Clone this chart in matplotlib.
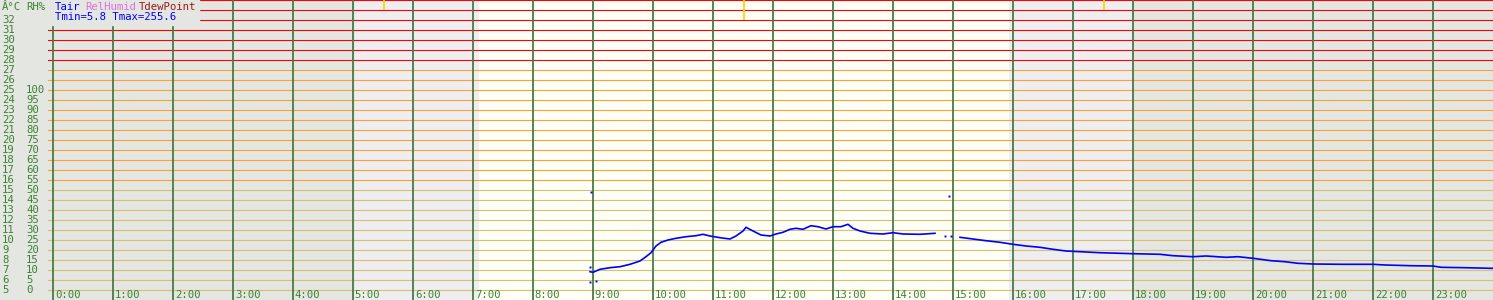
import numpy as np
import matplotlib
matplotlib.use("Agg")
import matplotlib.pyplot as plt
from matplotlib.patches import Rectangle

# ---------------- data ----------------
hour_labels = [f"{h}:00" for h in range(24)]
temp_ticks = list(range(5, 33))            # °C labels on the left
rh_ticks = list(range(0, 105, 5))          # RH% labels (0..100) -> T 5..25

# Tair series (hours, °C); NaN marks a gap in the record
tair_hours = [8.95, 9.0, 9.05, 9.117, 9.283, 9.45, 9.617, 9.783, 9.883, 9.967,
              10.05, 10.133, 10.25, 10.383, 10.55, 10.717, 10.833, 10.95, 11.117, 11.283,
              11.383, 11.5, 11.55, 11.667, 11.8, 11.95, 12.05, 12.167, 12.283, 12.383,
              12.5, 12.633, 12.75, 12.883, 13.0, 13.133, 13.25, 13.333, 13.45, 13.617,
              13.833, 14.0, 14.167, 14.45, 14.7, 14.9,
              15.117, 15.333, 15.55, 15.783, 16.0, 16.217, 16.45, 16.667, 16.883, 17.117,
              17.45, 17.783, 18.0, 18.45, 18.667, 19.0, 19.217, 19.55, 19.75, 20.0,
              20.3, 20.533, 20.75, 21.0, 21.467, 22.0, 22.2, 22.633, 23.0, 23.133,
              23.533, 23.967, 24.0]
tair_vals = [6.83, 6.77, 6.9, 7.07, 7.23, 7.33, 7.57, 7.9, 8.33, 8.73,
             9.4, 9.77, 10.0, 10.17, 10.33, 10.43, 10.57, 10.4, 10.23, 10.1,
             10.4, 10.9, 11.27, 10.9, 10.5, 10.4, 10.6, 10.77, 11.07, 11.17,
             11.07, 11.43, 11.33, 11.1, 11.33, 11.33, 11.57, 11.17, 10.9, 10.67,
             10.6, 10.73, 10.6, 10.57, 10.67, np.nan,
             10.27, 10.1, 9.93, 9.77, 9.57, 9.4, 9.27, 9.07, 8.9, 8.83,
             8.73, 8.67, 8.63, 8.57, 8.43, 8.33, 8.4, 8.27, 8.33, 8.17,
             7.93, 7.83, 7.67, 7.6, 7.57, 7.57, 7.5, 7.43, 7.4, 7.27,
             7.23, 7.17, 7.17]

# isolated Tair readings
dot_hours = [8.95, 8.95, 9.045, 8.967, 14.867, 14.967, 14.933]
dot_vals = [7.27, 5.83, 5.9, 14.8, 10.43, 10.43, 14.43]

# day/twilight bands (hours) and their kinds
band_edges = [-1 / 12, 5.03, 7.1, 15.93, 18.0, 24.0]
band_kinds = ["night", "twilight", "day", "twilight", "night"]

# small yellow marks at the top (hour, lower end in °C)
mark_hours = [5.517, 11.517, 17.517]
mark_bottoms = [33, 32, 33]

# ---------------- styling ----------------
W, H = 1493, 300
DPI = 100
BG = "#e4e6e2"
band_colors = {"night": "#e4e6e2", "twilight": "#eeeef0", "day": "#fdfff6"}
GREEN_TXT = "#3c8232"
VLINE = "#4a7a4a"
FS = 7.7
MONO = "DejaVu Sans Mono"

fig = plt.figure(figsize=(W / DPI, H / DPI), dpi=DPI, facecolor=BG)
x0 = 48
ax = fig.add_axes([x0 / W, 0, (W - x0) / W, 1])
ax.set_xlim(-1 / 12, 24)
ax.set_ylim(4, 34)
ax.axis("off")

for (a, b), k in zip(zip(band_edges[:-1], band_edges[1:]), band_kinds):
    ax.axvspan(a, b, color=band_colors[k], lw=0, zorder=0)

for t in range(5, 35):
    if t <= 15:
        c = "#d8c070"
    elif t <= 27:
        c = "#ffa030"
    else:
        c = "#ff0000"
    ax.axhline(t, color=c, lw=0.8, zorder=1)

for h in range(24):
    ax.axvline(h, color=VLINE, lw=1.3, zorder=2)
    ax.text(h + 0.03, 4.45, hour_labels[h], color=GREEN_TXT, fontsize=FS,
            family=MONO, ha="left", va="center", zorder=3)

ax.vlines(mark_hours, mark_bottoms, 34, color="#ffd000", lw=1.2, zorder=3)

ax.plot(tair_hours, tair_vals, color="#0000ff", lw=1.2, zorder=4)
ax.plot(dot_hours, dot_vals, ls="none", marker="s", ms=1.4, color="#0000ff",
        mew=0, zorder=4)

# legend box in the top-left corner
fig.patches.append(Rectangle((0, 1 - 25 / H), 199 / W, 25 / H,
                             transform=fig.transFigure, color=BG, zorder=5))

def px(x, y):
    return x / W, 1 - y / H

fig.text(*px(2, 7), "Â°C", color=GREEN_TXT, fontsize=FS, family=MONO,
         ha="left", va="center", zorder=6)
fig.text(*px(26, 7), "RH%", color=GREEN_TXT, fontsize=FS, family=MONO,
         ha="left", va="center", zorder=6)
for t in temp_ticks:
    fig.text(*px(2, 290 - (t - 5) * 10), str(t), color=GREEN_TXT, fontsize=FS,
             family=MONO, ha="left", va="center", zorder=6)
for r in rh_ticks:
    t = 5 + r / 5
    fig.text(*px(26, 290 - (t - 5) * 10), str(r), color=GREEN_TXT, fontsize=FS,
             family=MONO, ha="left", va="center", zorder=6)

fig.text(*px(55, 7), "Tair", color="#0000ff", fontsize=FS, family=MONO,
         ha="left", va="center", zorder=6)
fig.text(*px(85, 7), "RelHumid", color="#e070e0", fontsize=FS, family=MONO,
         ha="left", va="center", zorder=6)
fig.text(*px(139, 7), "TdewPoint", color="#a01818", fontsize=FS, family=MONO,
         ha="left", va="center", zorder=6)
fig.text(*px(55, 17), "Tmin=5.8 Tmax=255.6", color="#0000ff", fontsize=FS,
         family=MONO, ha="left", va="center", zorder=6)

fig.savefig("out.png", dpi=DPI, facecolor=BG)
